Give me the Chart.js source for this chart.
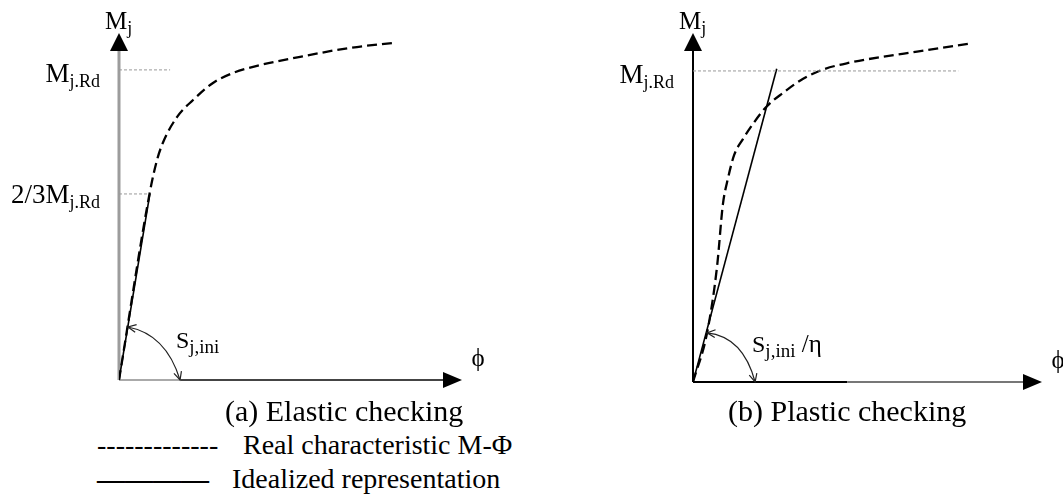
<!DOCTYPE html>
<html>
<head>
<meta charset="utf-8">
<script src="https://cdn.jsdelivr.net/npm/chart.js@4.4.1/dist/chart.umd.min.js"></script>
<style>
  html, body { margin: 0; padding: 0; background: #fff; }
  body { width: 1063px; height: 497px; position: relative; overflow: hidden;
         font-family: 'Liberation Serif', 'Times New Roman', serif; color: #000; }
  canvas { position: absolute; top: 0; }
  #chartA { left: 0; }
  #chartB { left: 531px; }
  .txt { position: absolute; white-space: nowrap; font-size: 28px; line-height: 1; }
  .cap { font-size: 30px; }
  .bold { font-weight: bold; }
</style>
</head>
<body>
<canvas id="chartA" width="531" height="400"></canvas>
<canvas id="chartB" width="532" height="400"></canvas>
<div class="txt cap" style="left:225px; top:396px">(a) Elastic checking</div>
<div class="txt cap" style="left:728px; top:396px">(b) Plastic checking</div>
<div class="txt" style="left:97px; top:431px">-------------</div>
<div class="txt" style="left:243px; top:431px">Real characteristic M-Φ</div>
<div class="txt bold" style="left:97px; top:465px">————</div>
<div class="txt" style="left:232px; top:465px">Idealized representation</div>

<script>
// (a) elastic checking: rotation phi vs moment Mj (Mj.Rd = 1)
const realA_phi = [0, 0.90, 1.11, 1.28, 1.69, 2.16, 2.74, 3.32, 3.91, 5.28, 6.73, 7.99];
const realA_m = [0, 0.606, 0.71, 0.765, 0.848, 0.903, 0.958, 0.99, 1.01, 1.042, 1.071, 1.087];
const idealA_phi = [0, 0.90];
const idealA_m = [0, 0.60];
const levelsA = [0.6, 1.0]; // 2/3 Mj.Rd and Mj.Rd as drawn
const levelsA_len = [0.85, 1.49];
const levelsA_labels = [['2/3M', 'j.Rd'], ['M', 'j.Rd']];

// (b) plastic checking
const realB_phi = [0, 0.41, 0.70, 0.87, 1.02, 1.20, 1.45, 1.75, 2.14, 2.63, 3.21, 3.80, 4.58, 5.55, 6.53, 8.12];
const realB_m = [0, 0.158, 0.37, 0.57, 0.655, 0.73, 0.78, 0.83, 0.885, 0.93, 0.975, 1.005, 1.027, 1.046, 1.062, 1.089];
const idealB_phi = [0, 2.44];
const idealB_m = [0, 1.007];
const levelsB = [1.0];
const levelsB_len = [7.73];
const levelsB_labels = [['M', 'j.Rd']];

const FONT = "'Liberation Serif', 'Times New Roman', serif";

function pts(xs, ys) {
  return xs.map((v, i) => ({ x: v, y: ys[i] }));
}

function drawParts(ctx, parts, x, y, align) {
  let w = 0;
  parts.forEach((p) => {
    ctx.font = p.size + 'px ' + FONT;
    w += ctx.measureText(p.t).width;
  });
  let cx = align === 'right' ? x - w : x;
  parts.forEach((p) => {
    ctx.font = p.size + 'px ' + FONT;
    ctx.fillText(p.t, cx, y + (p.dy || 0));
    cx += ctx.measureText(p.t).width;
  });
}

function arrowHead(ctx, x, y, dx, dy, len, half) {
  const l = Math.hypot(dx, dy);
  const ux = dx / l, uy = dy / l;
  ctx.beginPath();
  ctx.moveTo(x, y);
  ctx.lineTo(x - ux * len - uy * half, y - uy * len + ux * half);
  ctx.lineTo(x - ux * len + uy * half, y - uy * len - ux * half);
  ctx.closePath();
  ctx.fill();
}

function openHead(ctx, x, y, dx, dy, len) {
  const a = Math.atan2(dy, dx);
  ctx.beginPath();
  ctx.moveTo(x - len * Math.cos(a - 0.45), y - len * Math.sin(a - 0.45));
  ctx.lineTo(x, y);
  ctx.lineTo(x - len * Math.cos(a + 0.45), y - len * Math.sin(a + 0.45));
  ctx.stroke();
}

const sketch = {
  id: 'sketch',
  beforeDatasetsDraw(chart, args, o) {
    const { ctx, chartArea: a, scales: { x, y } } = chart;
    const ox = x.getPixelForValue(0);
    const oy = y.getPixelForValue(0);
    ctx.save();
    // y axis
    ctx.strokeStyle = o.yColor;
    ctx.lineWidth = o.yWidth;
    ctx.beginPath();
    ctx.moveTo(ox, oy);
    ctx.lineTo(ox, a.top + 14);
    ctx.stroke();
    ctx.fillStyle = '#000';
    arrowHead(ctx, ox, a.top, 0, -1, 18, 9);
    // x axis, two tones
    const sx = x.getPixelForValue(o.xSplit);
    ctx.lineWidth = 2;
    ctx.strokeStyle = o.xColors[0];
    ctx.beginPath();
    ctx.moveTo(ox, oy);
    ctx.lineTo(sx, oy);
    ctx.stroke();
    ctx.strokeStyle = o.xColors[1];
    ctx.beginPath();
    ctx.moveTo(sx, oy);
    ctx.lineTo(a.right - 14, oy);
    ctx.stroke();
    arrowHead(ctx, a.right, oy, 1, 0, 19, 8);
    ctx.restore();
  },
  afterDatasetsDraw(chart, args, o) {
    const { ctx, chartArea: a, scales: { x, y } } = chart;
    const ox = x.getPixelForValue(0);
    const oy = y.getPixelForValue(0);
    const px = (p) => [x.getPixelForValue(p[0]), y.getPixelForValue(p[1])];
    ctx.save();
    // stiffness arc with arrow heads
    const [x0, y0] = px(o.arc[0]);
    const [xc, yc] = px(o.arc[1]);
    const [x2, y2] = px(o.arc[2]);
    ctx.strokeStyle = '#222';
    ctx.lineWidth = 1.2;
    ctx.beginPath();
    ctx.moveTo(x0, y0);
    ctx.quadraticCurveTo(xc, yc, x2, y2);
    ctx.stroke();
    openHead(ctx, x0, y0, x0 - xc, y0 - yc, 9);
    openHead(ctx, x2, y2, x2 - xc, y2 - yc, 9);

    ctx.fillStyle = '#000';
    ctx.textBaseline = 'alphabetic';
    // axis title
    drawParts(ctx, [{ t: 'M', size: 25 }, { t: 'j', size: 18, dy: 5 }], ox - 14, a.top - 4, 'left');
    // level labels
    o.levels.forEach((v, i) => {
      const lab = o.levelLabels[i];
      drawParts(ctx, [{ t: lab[0], size: 27 }, { t: lab[1], size: 18, dy: 5 }],
        ox - 19, y.getPixelForValue(v) + o.levelDy[i], 'right');
    });
    // phi label
    ctx.font = '25px ' + FONT;
    ctx.textAlign = 'center';
    ctx.textBaseline = 'middle';
    ctx.fillText('ϕ', a.right + 16, oy - 21);
    ctx.textAlign = 'left';
    ctx.textBaseline = 'alphabetic';
    const [sxp, syp] = px(o.sPos);
    drawParts(ctx, o.sParts, sxp, syp, 'left');
    ctx.restore();
  },
};

function levelSets(levels, lens) {
  return levels.map((v, i) => ({
    data: [{ x: 0, y: v }, { x: lens[i], y: v }],
    borderColor: '#9a9a9a',
    borderWidth: 1,
    borderDash: [3, 2],
    pointRadius: 0,
  }));
}

function makeChart(id, cfg) {
  return new Chart(document.getElementById(id), {
    type: 'scatter',
    data: {
      datasets: [
        ...levelSets(cfg.levels, cfg.levelLens),
        {
          data: pts(cfg.idealX, cfg.idealY),
          showLine: true,
          borderColor: '#000',
          borderWidth: 1.6,
          pointRadius: 0,
        },
        {
          data: pts(cfg.realX, cfg.realY),
          showLine: true,
          borderColor: '#000',
          borderWidth: 2.3,
          borderDash: [10, 5],
          cubicInterpolationMode: 'monotone',
          pointRadius: 0,
        },
      ],
    },
    options: {
      responsive: false,
      animation: false,
      devicePixelRatio: 1,
      layout: { padding: cfg.pad },
      datasets: { scatter: { showLine: true } },
      scales: {
        x: { type: 'linear', min: 0, max: cfg.xMax, display: false },
        y: { type: 'linear', min: 0, max: cfg.yMax, display: false },
      },
      plugins: {
        legend: { display: false },
        tooltip: { enabled: false },
        sketch: cfg.sketch,
      },
    },
    plugins: [sketch],
  });
}

makeChart('chartA', {
  realX: realA_phi, realY: realA_m, idealX: idealA_phi, idealY: idealA_m,
  levels: levelsA, levelLens: levelsA_len,
  xMax: 10.0, yMax: 1.119,
  pad: { left: 119, top: 33, right: 69, bottom: 20 },
  sketch: {
    yColor: '#9c9c9c', yWidth: 3, xSplit: 1.8, xColors: ['#aaaaaa', '#444444'],
    levels: levelsA, levelLabels: levelsA_labels, levelDy: [9, 12],
    arc: [[0.26, 0.171], [1.37, 0.148], [1.78, 0]],
    sPos: [1.66, 0.104],
    sParts: [{ t: 'S', size: 24 }, { t: 'j,ini', size: 19, dy: 5 }],
  },
});

makeChart('chartB', {
  realX: realB_phi, realY: realB_m, idealX: idealB_phi, idealY: idealB_m,
  levels: levelsB, levelLens: levelsB_len,
  xMax: 10.17, yMax: 1.122,
  pad: { left: 162, top: 33, right: 21, bottom: 18 },
  sketch: {
    yColor: '#000', yWidth: 2, xSplit: 4.5, xColors: ['#000000', '#777777'],
    levels: levelsB, levelLabels: levelsB_labels, levelDy: [12],
    arc: [[0.41, 0.158], [1.46, 0.146], [1.81, 0]],
    sPos: [1.72, 0.096],
    sParts: [{ t: 'S', size: 24 }, { t: 'j,ini', size: 19, dy: 5 }, { t: ' /η', size: 25 }],
  },
});
</script>
</body>
</html>
